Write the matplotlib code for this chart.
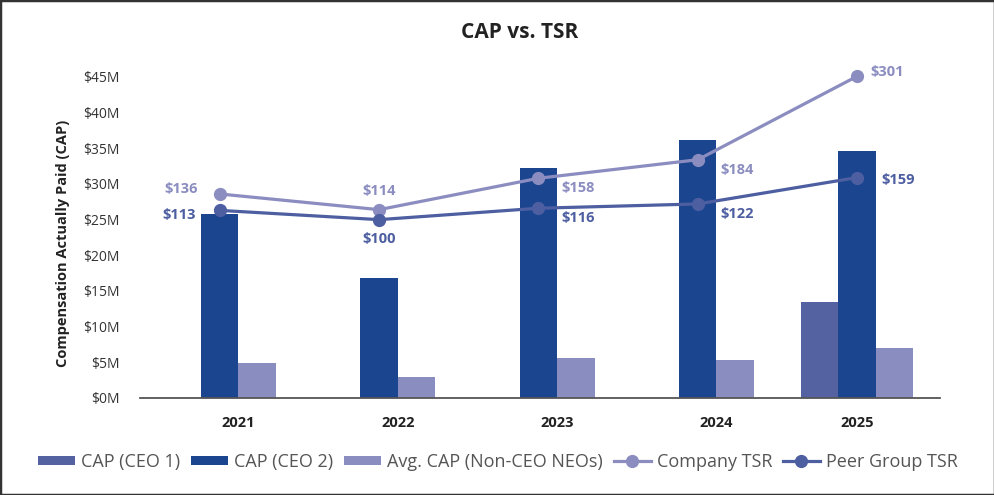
import numpy as np
import matplotlib
matplotlib.use("Agg")
import matplotlib.pyplot as plt
from matplotlib.patches import Rectangle

plt.rcParams['font.family'] = ['Open Sans', 'DejaVu Sans']

years = ["2021", "2022", "2023", "2024", "2025"]
cap_ceo1 = [np.nan, np.nan, np.nan, np.nan, 13.4]
cap_ceo2 = [25.8, 16.8, 32.2, 36.1, 34.6]
cap_neo = [4.9, 2.9, 5.6, 5.3, 7.0]
company_tsr = [136, 114, 158, 184, 301]
peer_tsr = [113, 100, 116, 122, 159]
y_ticks = [0, 5, 10, 15, 20, 25, 30, 35, 40, 45]

c_ceo1 = "#5562a1"
c_ceo2 = "#1b458f"
c_neo = "#8a8dbf"
c_comp = "#8b8dc0"
c_peer = "#4d5ea1"

fig = plt.figure(figsize=(9.95, 4.95), dpi=100)
ax = fig.add_axes([140/995, 1-398/495, 800/995, (398-62.7)/495])

x = np.arange(len(years))
w = 0.235
series = [(cap_ceo1, -w, c_ceo1, "CAP (CEO 1)"),
          (cap_ceo2, 0.0, c_ceo2, "CAP (CEO 2)"),
          (cap_neo, w, c_neo, "Avg. CAP (Non-CEO NEOs)")]
handles = []
for vals, off, col, lab in series:
    b = ax.bar(x + off, vals, width=w, color=col, label=lab, zorder=2)
    handles.append(b)

# tick positions: centre of present bars in each category
tick_pos = []
for i in range(len(years)):
    offs = [off for vals, off, _, _ in series if not np.isnan(vals[i])]
    tick_pos.append(i + np.mean(offs))
ax.set_xticks(tick_pos)
ax.set_xticklabels(years, fontsize=10.5, fontweight='bold', color='#222222')
ax.set_xlim(-0.5, 4.52)
ax.set_ylim(0, 47)
ax.set_yticks(y_ticks)
ax.set_yticklabels([f"${v}M" for v in y_ticks], fontsize=10, color='#333333')
ax.tick_params(axis='both', length=0)
ax.tick_params(axis='y', pad=15)
ax.tick_params(axis='x', pad=13)
for s in ['top', 'right', 'left']:
    ax.spines[s].set_visible(False)
ax.spines['bottom'].set_color('#555555')
ax.spines['bottom'].set_linewidth(1.3)
ax.set_ylabel("Compensation Actually Paid (CAP)", fontsize=10.5, fontweight='bold', color='#222222')
ax.yaxis.set_label_coords(-0.087, 0.46)

ax2 = ax.twinx()
ax2.set_ylim((0 - 15) * 10, (47 - 15) * 10)
ax2.axis('off')
l1, = ax2.plot(x, company_tsr, color=c_comp, lw=2.3, marker='o', ms=8.5, label="Company TSR", zorder=3, clip_on=False)
l2, = ax2.plot(x, peer_tsr, color=c_peer, lw=2.3, marker='o', ms=8.5, label="Peer Group TSR", zorder=4, clip_on=False)

# label offsets (pixels) and alignment
comp_off = [(-22, 5, 'right'), (0, 19, 'center'), (23, -10, 'left'), (23, -10, 'left'), (13, 4, 'left')]
peer_off = [(-24, -5, 'right'), (0, -19, 'center'), (23, -10, 'left'), (23, -10, 'left'), (24, -2, 'left')]
for i in range(len(years)):
    dx, dy, ha = comp_off[i]
    ax2.annotate(f"${company_tsr[i]}", (x[i], company_tsr[i]), xytext=(dx, dy),
                 textcoords='offset pixels', ha=ha, va='center', fontsize=10.5,
                 fontweight='bold', color=c_comp)
    dx, dy, ha = peer_off[i]
    ax2.annotate(f"${peer_tsr[i]}", (x[i], peer_tsr[i]), xytext=(dx, dy),
                 textcoords='offset pixels', ha=ha, va='center', fontsize=10.5,
                 fontweight='bold', color=c_peer)

fig.text(520/995, 1-33/495, "CAP vs. TSR", ha='center', va='center', fontsize=15,
         fontweight='bold', color='#222222')

leg = fig.legend(handles + [l1, l2], [h.get_label() for h in handles] + ["Company TSR", "Peer Group TSR"],
                 loc='center', bbox_to_anchor=(498/995, 1-462/495), ncol=5, frameon=False,
                 fontsize=13, handlelength=2.05, handleheight=0.45, handletextpad=0.33,
                 columnspacing=0.6, labelcolor='#555555')

fig.patches.append(Rectangle((0, 0), 1, 1, transform=fig.transFigure, fill=False,
                             edgecolor='#333333', linewidth=2.5, zorder=10))

fig.savefig("out.png", dpi=100)
